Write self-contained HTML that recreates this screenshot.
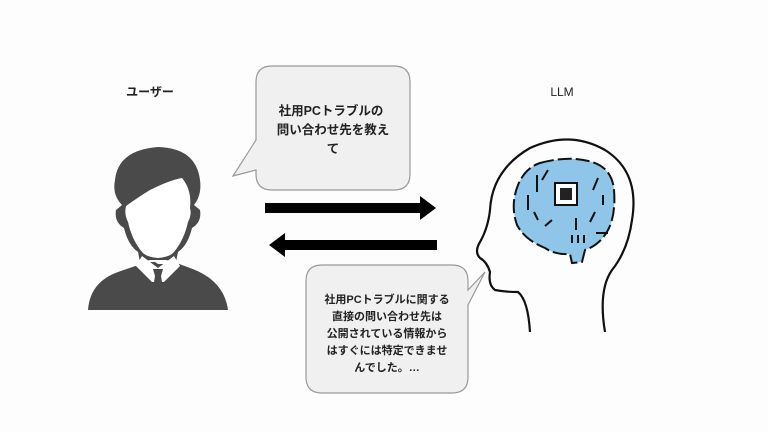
<!DOCTYPE html>
<html><head><meta charset="utf-8"><style>
html,body{margin:0;padding:0;background:#fff;}
svg{display:block}
text{font-family:"Liberation Sans","Noto Sans CJK JP",sans-serif;fill:#222;}
</style></head><body>
<svg width="768" height="432" viewBox="0 0 768 432" xmlns="http://www.w3.org/2000/svg">
<rect width="768" height="432" fill="#fdfdfd"/>
<text x="150" y="96" font-size="12" text-anchor="middle" font-weight="bold">ユーザー</text>
<text x="562" y="96" font-size="12" text-anchor="middle">LLM</text>

<!-- person -->
<g fill="#4a4a4a">
  <path d="M88 310 Q90 282 118 272 L147 262 L155 262 L158 264 L170 264 L174 262 L190 268 Q224 280 228 310 Z"/>
  <path d="M122 205 Q112 195 115 180 Q118 150 158 147 Q196 148 200 180 Q202 195 194 205 L200 210 Q202 222 192 228 Q188 245 178 252 L176 262 L166 260 L150 260 L140 262 L138 252 Q128 245 124 228 Q114 222 116 210 Z"/>
</g>
<path d="M126 206 Q140 196 150 190 Q170 180 182 178 Q192 190 190 208 Q192 214 188 222 Q184 240 174 252 Q170 257 158 258 Q146 257 142 252 Q132 240 128 222 Q124 214 126 206 Z" fill="#fff"/>
<path d="M142 256 L158 268 L174 256 L180 266 L164 282 L152 282 L136 266 Z" fill="#fff"/>
<path d="M153 269 L163 269 L161 276 L165 300 L158 306 L151 300 L155 276 Z" fill="#4a4a4a"/>

<!-- bubble 1 -->
<path d="M272 66 L394 66 Q410 66 410 82 L410 174 Q410 190 394 190 L272 190 Q256 190 256 174 L256 170 L233 176 L256 140 L256 82 Q256 66 272 66 Z" fill="#f0f0f0" stroke="#999" stroke-width="1.2"/>
<text font-size="12.5" font-weight="bold" text-anchor="middle"><tspan x="331" y="115">社用PCトラブルの</tspan><tspan x="333" y="134">問い合わせ先を教え</tspan><tspan x="333" y="153">て</tspan></text>

<!-- arrows -->
<path d="M265 203 L420 203 L420 196 L436 208 L420 220 L420 213 L265 213 Z" fill="#000"/>
<path d="M437 240 L285 240 L285 233 L269 245 L285 257 L285 250 L437 250 Z" fill="#000"/>

<!-- bubble 2 -->
<path d="M322 265 L452 265 Q468 265 468 281 L468 290 L485 272 L468 305 L468 377 Q468 393 452 393 L322 393 Q306 393 306 377 L306 281 Q306 265 322 265 Z" fill="#f0f0f0" stroke="#999" stroke-width="1.2"/>
<text font-size="11" font-weight="bold" text-anchor="middle"><tspan x="387" y="303">社用PCトラブルに関する</tspan><tspan x="387" y="320">直接の問い合わせ先は</tspan><tspan x="387" y="337">公開されている情報から</tspan><tspan x="387" y="354">はすぐには特定できませ</tspan><tspan x="387" y="371">んでした。…</tspan></text>

<!-- head -->
<path d="M530 332 Q528 300 518 292 Q505 292 495 290 Q488 285 490 272 Q487 262 480 258 Q474 252 480 242 Q488 228 490 210 Q492 170 530 148 Q570 130 605 150 Q640 172 632 220 Q628 250 612 270 Q598 290 605 332" fill="none" stroke="#111" stroke-width="2.2"/>
<!-- brain -->
<path d="M540 163 Q570 155 592 162 Q612 168 614 190 Q616 215 608 230 Q600 245 585 250 L582 262 L572 263 L570 254 Q555 255 545 248 Q525 240 517 225 Q510 205 518 185 Q525 168 540 163 Z" fill="#8fc5e8" stroke="#111" stroke-width="2" stroke-dasharray="14 4"/>
<rect x="555" y="183" width="22" height="22" fill="#fff" stroke="#111" stroke-width="2"/>
<rect x="560" y="188" width="12" height="12" fill="#222"/>
<g stroke="#111" stroke-width="2" fill="none">
<path d="M537 175 L537 192 M548 170 L542 180 M528 195 L528 210 M534 212 L538 220 M598 178 L593 190 M603 195 L603 205 M595 212 L590 222 M596 233 L608 233 M576 218 L576 230 M572 235 L572 243 M578 235 L578 243 M584 235 L584 243 M545 226 L552 220"/>
</g>
</svg>
</body></html>
